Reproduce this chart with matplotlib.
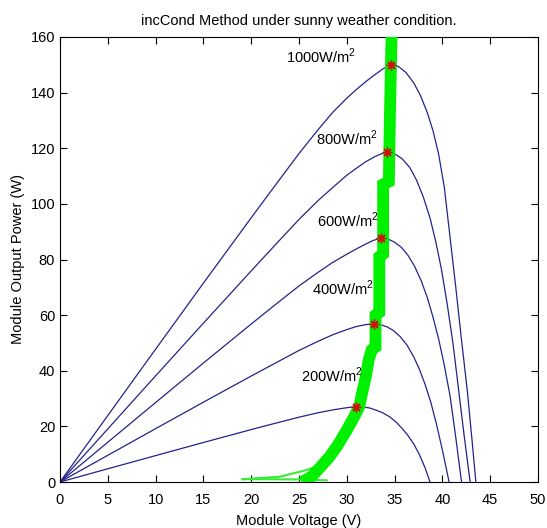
import matplotlib
matplotlib.use("Agg")
import matplotlib.pyplot as plt
from matplotlib import font_manager

# ---------------- data ----------------
irradiance_labels = ["1000W/m$^2$", "800W/m$^2$", "600W/m$^2$", "400W/m$^2$", "200W/m$^2$"]

v_1000 = [0, 5, 10, 15, 20, 22.5, 25, 27, 28.5, 30, 31, 32, 33, 33.8, 34.6, 35.4, 36.2, 37, 37.7, 38.4, 39, 39.6, 40.2, 40.8, 41.4, 42, 42.6, 43.1, 43.5]
p_1000 = [0, 23.9, 47.75, 71.5, 95.0, 106.6, 118.1, 126.7, 132.8, 138.0, 141.1, 144.0, 146.6, 148.6, 150.0, 149.4, 147.2, 143.5, 139, 133, 126.5, 118, 106, 88, 70, 51, 33, 15, 0]

v_800 = [0, 5, 10, 15, 20, 22.5, 25, 27, 28.5, 30, 31, 32, 33, 33.6, 34.2, 35, 35.8, 36.6, 37.3, 38, 38.7, 39.3, 39.9, 40.5, 41.1, 41.7, 42.3, 42.9]
p_800 = [0, 19.1, 38.16, 57.1, 75.9, 85.2, 94.4, 101.2, 105.8, 110.3, 112.8, 115.2, 117.1, 118.0, 118.5, 118.0, 116.2, 113, 108.5, 102.5, 95, 86.5, 76.5, 64, 50, 33, 16, 0]

v_600 = [0, 5, 10, 15, 20, 22.5, 25, 27, 28.5, 30, 31, 32, 32.8, 33.6, 34.3, 35, 35.7, 36.4, 37.1, 37.8, 38.4, 39, 39.6, 40.2, 40.8, 41.4, 42.0]
p_600 = [0, 14.3, 28.57, 42.77, 56.8, 63.7, 70.5, 75.4, 78.9, 81.9, 83.8, 85.6, 86.9, 87.7, 87.4, 86.2, 84.4, 81.5, 77.5, 72.2, 66.5, 59.5, 51.5, 42, 31, 16, 0]

v_400 = [0, 5, 10, 15, 20, 22.5, 25, 27, 28.5, 30, 31, 32, 32.8, 33.5, 34.2, 34.9, 35.6, 36.3, 37, 37.6, 38.2, 38.8, 39.4, 40.0, 40.7]
p_400 = [0, 9.6, 19.18, 28.7, 38.1, 42.7, 47.3, 50.6, 52.9, 54.8, 55.9, 56.6, 56.8, 56.6, 55.8, 54.4, 52.2, 49.2, 45, 40.5, 35, 28.5, 20.5, 11.5, 0]

v_200 = [0, 5, 10, 15, 20, 22.5, 25, 27, 28.5, 29.5, 30.3, 31, 31.7, 32.4, 33.1, 33.8, 34.5, 35.2, 35.8, 36.4, 37, 37.6, 38.2, 38.7]
p_200 = [0, 4.75, 9.49, 14.2, 18.85, 21.1, 23.3, 24.9, 25.9, 26.45, 26.85, 27.1, 27.0, 26.6, 25.8, 24.8, 23.4, 21.4, 19.2, 16.7, 13.7, 9.8, 5.0, 0]

mpp_v = [34.6, 34.2, 33.6, 32.8, 31.0]
mpp_p = [150.0, 118.5, 87.7, 56.8, 27.1]

# MPPT operating trajectory (thick green, staircase-like)
track_v = [25.3, 26.3, 27.2, 28.2, 29.1, 30.0, 30.7, 31.3, 31.6, 32.0, 32.3, 32.6, 33.0, 33.0, 33.4, 33.4, 33.8, 33.8, 34.4, 34.5, 34.7]
track_p = [0.0, 1.9, 5.2, 9.1, 13.5, 18.7, 23.0, 27.0, 32.0, 38.0, 44.0, 47.5, 48.5, 60.0, 61.0, 81.0, 82.0, 107.0, 108.0, 130.0, 163.0]
# start-up transients (thin green)
start_v1 = [19.1, 22.0, 25.0, 27.9]
start_p1 = [1.0, 1.0, 0.9, 0.6]
start_v2 = [19.1, 23.0, 25.8, 27.2]
start_p2 = [1.0, 1.9, 4.3, 6.1]

label_v = [31.0, 33.2, 33.3, 32.8, 31.7]
label_p = [153, 123.7, 94.2, 69.8, 38.5]

xticks = [0, 5, 10, 15, 20, 25, 30, 35, 40, 45, 50]
yticks = [0, 20, 40, 60, 80, 100, 120, 140, 160]

# ---------------- figure ----------------
avail = {f.name for f in font_manager.fontManager.ttflist}
fam = ["Liberation Sans Narrow", "Liberation Sans", "DejaVu Sans"]
fam = [f for f in fam if f in avail] or ["DejaVu Sans"]
plt.rcParams["font.family"] = fam
plt.rcParams["mathtext.fontset"] = "custom"
plt.rcParams["mathtext.rm"] = fam[0]

W, H = 547, 528
fig = plt.figure(figsize=(W / 100, H / 100), dpi=100)
ax = fig.add_axes([60 / W, 1 - 482 / H, 478 / W, 445 / H])

curve_color = "#24248a"
for v, p in [(v_1000, p_1000), (v_800, p_800), (v_600, p_600), (v_400, p_400), (v_200, p_200)]:
    ax.plot(v, p, color=curve_color, lw=0.9, zorder=2)

ax.plot(start_v1, start_p1, color="#33ee33", lw=1.5, zorder=3)
ax.plot(start_v2, start_p2, color="#33ee33", lw=1.5, zorder=3)
ax.plot(track_v, track_p, color="#00f000", lw=8.5, solid_capstyle="butt",
        solid_joinstyle="miter", zorder=3)

ax.plot(mpp_v, mpp_p, linestyle="none", marker=(8, 2, 0), markeredgecolor="#d01010",
        markersize=7, markeredgewidth=1.0, zorder=4)

for lab, x, y in zip(irradiance_labels, label_v, label_p):
    ax.text(x, y, lab, ha="right", va="center", fontsize=10.5, color="black", zorder=5)

ax.set_xlim(0, 50)
ax.set_ylim(0, 160)
ax.set_xticks(xticks)
ax.set_yticks(yticks)
ax.tick_params(direction="in", top=True, right=True, length=5, width=0.8, labelsize=10.5)
ax.tick_params(axis="x", pad=8)
for s in ax.spines.values():
    s.set_linewidth(0.8)

ax.set_title("incCond Method under sunny weather condition.", fontsize=10.5, pad=9)
ax.set_xlabel("Module Voltage (V)", fontsize=10.5, labelpad=5)
ax.set_ylabel("Module Output Power (W)", fontsize=10.5, labelpad=4)

fig.savefig("out.png", dpi=100)
